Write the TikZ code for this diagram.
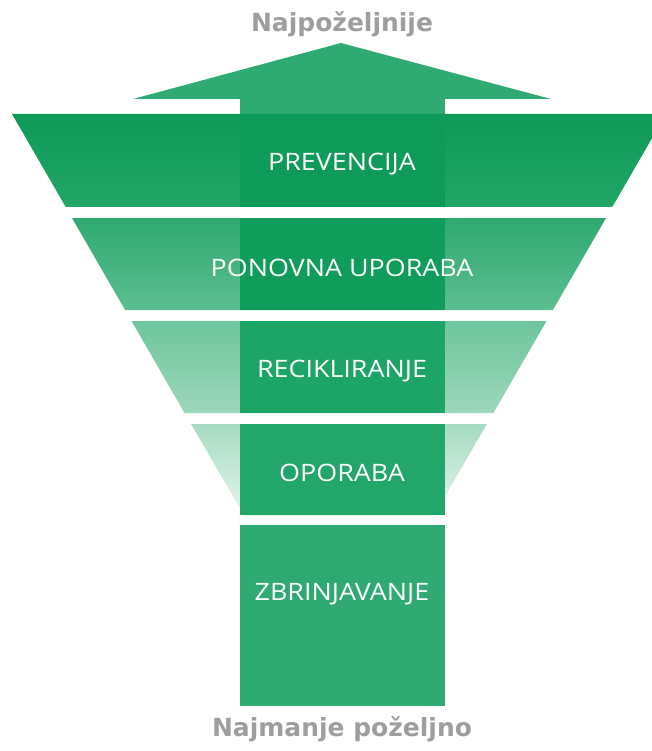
\documentclass[tikz,border=0pt]{standalone}
\usepackage{fontspec}
\setmainfont{Open Sans}[FakeStretch=1.12]
\newfontfamily\endfont{DejaVu Sans}

\definecolor{arrowgreen}{HTML}{2EAA72}
\definecolor{endgray}{HTML}{9E9E9E}
\definecolor{bandAtop}{HTML}{0E9A58}
\definecolor{bandAbot}{HTML}{21A667}
\definecolor{bandBtop}{HTML}{2FA970}
\definecolor{bandBbot}{HTML}{5CBE91}
\definecolor{bandCtop}{HTML}{6DC59C}
\definecolor{bandCbot}{HTML}{9CD7BB}
\definecolor{bandDtop}{HTML}{A4DAC1}
\definecolor{bandDbot}{HTML}{E8F6EF}
\definecolor{shaftA}{HTML}{0E9A58}
\definecolor{shaftB}{HTML}{109C5B}
\definecolor{shaftC}{HTML}{1DA467}
\definecolor{shaftD}{HTML}{22A66A}
\definecolor{shaftE}{HTML}{2DA971}

\tikzset{
  bandlabel/.style={anchor=base, text=white, font=\fontsize{24}{28}\selectfont, inner sep=0pt},
  endlabel/.style={anchor=base, text=endgray, font=\endfont\bfseries\fontsize{25}{28}\selectfont, inner sep=0pt}
}

\begin{document}
\begin{tikzpicture}[x=1pt,y=-1pt]
            \useasboundingbox (0,0) rectangle (651,751);

            % arrow head and the bit of shaft above the funnel
            \coordinate (T) at (341,43);
            \coordinate (HL) at (133,99);
            \coordinate (HR) at (551,99);
            \fill[arrowgreen] (HL)--(T)--(HR)--cycle;
            \fill[arrowgreen] (240,98) rectangle (445,114);

            % funnel bands
            \shade[top color=bandAtop, bottom color=bandAbot]
                (12,114)--(666,114)--(612.3,207)--(65.7,207)--cycle;
            \shade[top color=bandBtop, bottom color=bandBbot]
                (72.0,218)--(606.0,218)--(552.9,310)--(125.1,310)--cycle;
            \shade[top color=bandCtop, bottom color=bandCbot]
                (131.5,321)--(546.5,321)--(493.4,413)--(184.6,413)--cycle;
            \shade[top color=bandDtop, bottom color=bandDbot]
                (191.1,424)--(486.9,424)--(433.6,516)--(244.4,516)--cycle;

            % shaft pieces
            \fill[shaftA] (240,114) rectangle (445,207);
            \fill[shaftB] (240,218) rectangle (445,310);
            \fill[shaftC] (240,321) rectangle (445,413);
            \fill[shaftD] (240,424) rectangle (445,515);
            \fill[arrowgreen] (240,525) rectangle (445,706);
            \fill[shaftE] (244.4,525)--(433.6,525)--(339,680)--cycle;

            % labels
            \node[bandlabel] (prev) at (342,171) {PREVENCIJA};
            \node[bandlabel] (upor) at (342,276) {PONOVNA UPORABA};
            \node[bandlabel] (reci) at (342,377) {RECIKLIRANJE};
            \node[bandlabel] (opor) at (342,481) {OPORABA};
            \node[bandlabel] (zbri) at (342,600) {ZBRINJAVANJE};

            \node[endlabel] (most) at (342,32) {Najpoželjnije};
            \node[endlabel] (least) at (342,736) {Najmanje poželjno};
        \end{tikzpicture}
\end{document}
